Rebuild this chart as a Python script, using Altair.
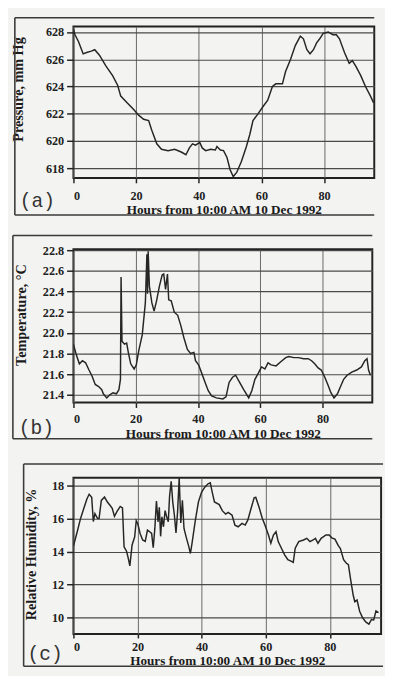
import altair as alt
import pandas as pd

# ---------------- data ----------------
hours_a = [0, 0.5, 1.6, 3.1, 4.2, 5.7, 6.8, 8.3, 10.4, 12.5, 14.1, 15.1, 17.2, 19.3, 20.8,
           22.4, 24.0, 25.0, 26.6, 28.1, 30.2, 32.3, 34.4, 35.9, 37.0, 38.0, 39.0, 40.3,
           41.1, 42.2, 43.8, 45.3, 45.8, 46.9, 47.9, 49.0, 50.0, 51.0, 52.1, 53.6, 55.2,
           56.3, 57.3, 58.9, 60.4, 62.0, 63.5, 64.6, 66.7, 67.7, 69.3, 70.8, 72.4, 73.4,
           74.5, 75.5, 76.6, 77.6, 78.6, 79.7, 81.3, 82.8, 83.9, 84.9, 86.5, 88.0, 89.0,
           90.1, 91.7, 93.2, 94.8, 95.8]
pressure = [628.2, 627.8, 627.3, 626.4, 626.5, 626.6, 626.7, 626.3, 625.5, 624.8, 624.1,
            623.3, 622.8, 622.3, 621.9, 621.6, 621.5, 620.8, 619.8, 619.4, 619.3, 619.4,
            619.2, 619.0, 619.5, 619.8, 619.7, 619.9, 619.5, 619.3, 619.4, 619.35, 619.6,
            619.35, 619.3, 618.8, 617.9, 617.4, 617.7, 618.5, 619.6, 620.5, 621.5, 622.0,
            622.5, 623.0, 624.0, 624.2, 624.2, 625.1, 626.0, 627.0, 627.7, 627.5, 626.7,
            626.4, 626.7, 627.2, 627.5, 627.9, 628.0, 627.8, 627.8, 627.5, 626.5, 625.7,
            625.9, 625.5, 624.8, 624.0, 623.3, 622.8]

hours_b = [0.0, 0.8, 1.9, 2.9, 3.9, 5.0, 6.0, 7.0, 8.1, 9.1, 9.6, 10.7, 11.7, 12.7, 13.8,
           14.6, 15.1, 15.3, 15.6, 16.4, 17.1, 17.7, 18.4, 19.5, 20.2, 21.0, 22.1, 23.1,
           23.6, 23.8, 24.0, 24.4, 25.2, 25.9, 26.7, 27.6, 28.5, 29.0, 29.6, 30.2, 30.6,
           31.4, 32.4, 33.5, 34.5, 35.5, 36.6, 37.6, 38.7, 39.2, 40.2, 41.2, 42.3, 43.3,
           44.4, 45.9, 48.0, 49.0, 50.0, 51.1, 52.1, 53.2, 54.7, 56.3, 57.3, 58.3, 59.4,
           60.4, 61.5, 62.5, 63.5, 65.1, 66.6, 68.2, 69.2, 70.8, 72.3, 73.9, 75.4, 76.5,
           77.5, 78.6, 79.6, 80.6, 81.7, 82.7, 83.7, 84.8, 85.8, 86.8, 87.9, 89.4, 91.0,
           92.5, 93.6, 94.3, 94.8, 95.4]
temperature = [21.89, 21.80, 21.70, 21.73, 21.71, 21.64, 21.58, 21.50, 21.48, 21.45, 21.41,
               21.37, 21.40, 21.42, 21.41, 21.45, 21.55, 22.54, 21.92, 21.89, 21.90, 21.80,
               21.70, 21.65, 21.69, 21.83, 21.98, 22.29, 22.76, 22.38, 22.79, 22.45, 22.29,
               22.21, 22.31, 22.45, 22.56, 22.57, 22.42, 22.57, 22.32, 22.31, 22.20, 22.17,
               22.07, 21.95, 21.84, 21.80, 21.81, 21.73, 21.69, 21.61, 21.52, 21.44, 21.39,
               21.37, 21.36, 21.38, 21.52, 21.57, 21.59, 21.53, 21.45, 21.37, 21.44, 21.55,
               21.61, 21.67, 21.65, 21.71, 21.69, 21.68, 21.72, 21.76, 21.77, 21.76, 21.76,
               21.75, 21.75, 21.73, 21.70, 21.66, 21.64, 21.58, 21.50, 21.42, 21.37, 21.41,
               21.48, 21.55, 21.59, 21.62, 21.64, 21.67, 21.73, 21.75, 21.64, 21.59]

hours_c = [0.0, 1.2, 2.2, 3.2, 4.2, 4.9, 5.7, 6.2, 6.7, 7.5, 8.0, 8.7, 9.7, 10.6, 11.4,
           12.1, 12.8, 13.6, 14.6, 15.3, 15.8, 16.6, 17.1, 17.6, 18.3, 19.1, 19.6, 20.1,
           20.8, 21.6, 22.4, 23.1, 23.8, 24.4, 24.9, 25.4, 25.9, 26.4, 26.8, 27.2, 27.6,
           28.1, 28.6, 29.1, 29.6, 30.0, 30.5, 31.0, 31.5, 32.0, 32.5, 33.0, 33.5, 34.0,
           34.5, 35.2, 36.0, 36.5, 37.0, 38.0, 39.0, 40.0, 41.0, 42.0, 42.7, 43.3, 44.0,
           45.5, 46.5, 47.5, 48.3, 49.5, 50.4, 51.4, 52.6, 53.6, 54.4, 55.4, 56.4, 56.9,
           57.9, 58.9, 59.9, 60.9, 61.6, 62.4, 63.2, 63.9, 64.9, 65.9, 66.9, 67.9, 68.6,
           69.2, 70.3, 71.8, 72.8, 73.8, 74.8, 75.5, 76.3, 77.3, 78.8, 79.8, 80.6, 81.6,
           82.6, 83.3, 84.3, 85.1, 85.8, 86.5, 87.3, 87.8, 88.5, 89.3, 90.2, 91.2, 92.2,
           93.0, 93.7, 94.4, 95.2]
humidity = [14.33, 15.21, 15.99, 16.59, 17.18, 17.47, 17.28, 15.82, 16.30, 16.01, 16.0,
            17.1, 17.3, 17.0, 16.8, 16.62, 16.13, 16.43, 16.73, 16.64, 14.29, 14.0, 13.6,
            13.13, 14.4, 14.88, 15.87, 15.67, 15.09, 14.7, 14.61, 15.3, 15.2, 15.1, 14.23,
            15.4, 17.06, 15.8, 16.68, 14.92, 16.1, 15.5, 16.48, 16.1, 15.8, 17.36, 18.25,
            16.98, 16.2, 15.13, 16.4, 18.45, 15.73, 17.1, 15.4, 14.86, 14.3, 13.88, 14.5,
            15.84, 17.0, 17.6, 17.9, 18.1, 18.16, 17.6, 17.0, 16.84, 16.46, 16.27, 16.37,
            16.2, 15.6, 15.5, 15.7, 15.6, 15.9, 16.59, 17.27, 17.28, 16.7, 16.03, 15.53,
            14.97, 14.5, 15.0, 15.2, 14.6, 14.2, 13.8, 13.5, 13.42, 13.34, 14.2, 14.6,
            14.7, 14.8, 14.6, 14.7, 14.8, 14.5, 14.8, 15.0, 15.0, 14.83, 14.75, 14.37,
            14.18, 13.5, 13.3, 13.2, 12.3, 11.35, 10.96, 11.06, 10.38, 10.0, 9.73, 9.6,
            9.88, 9.85, 10.4, 10.3]

x_ticks = [0, 20, 40, 60, 80]
x_title = "Hours from 10:00 AM  10 Dec 1992"
pressure_ticks = [618, 620, 622, 624, 626, 628]
temp_ticks = [21.4, 21.6, 21.8, 22.0, 22.2, 22.4, 22.6, 22.8]
hum_ticks = [10, 12, 14, 16, 18]

SERIF = "Liberation Serif"
INK = "#262626"
BG = "#f3f3f1"


def panel(hours, values, ytitle, ydomain, yticks, yfmt, tag, w, h, frame, ytitle_xy, xpad):
    fl, ft, fb, fr, tx, ty = frame
    df = pd.DataFrame({"h": hours, "v": values})
    line = alt.Chart(df).mark_line(color=INK, strokeWidth=1.5, clip=True).encode(
        x=alt.X("h:Q", scale=alt.Scale(domain=[0, 96], nice=False, zero=False),
                axis=alt.Axis(values=x_ticks, title=x_title, format="d",
                              tickSize=xpad[0], labelPadding=xpad[1], titlePadding=xpad[2])),
        y=alt.Y("v:Q", scale=alt.Scale(domain=ydomain, nice=False, zero=False),
                axis=alt.Axis(values=yticks, format=yfmt, title=ytitle,
                              titleX=ytitle_xy[0], titleY=ytitle_xy[1])),
    )
    deco = alt.Chart(pd.DataFrame({"k": [0]}))
    top = deco.mark_rule(color="#3a3a3a", strokeWidth=1.6).encode(
        x=alt.value(fl), x2=alt.value(fr), y=alt.value(ft))
    bottom = deco.mark_rule(color="#3a3a3a", strokeWidth=1.6).encode(
        x=alt.value(fl), x2=alt.value(fr), y=alt.value(fb))
    left = deco.mark_rule(color="#3a3a3a", strokeWidth=1.6).encode(
        x=alt.value(fl), y=alt.value(ft), y2=alt.value(fb))
    label = deco.mark_text(font="Liberation Mono", fontSize=20, color="#333",
                           align="center", baseline="middle").encode(
        x=alt.value(tx), y=alt.value(ty), text=alt.value(tag))
    return alt.layer(line, top, bottom, left, label).properties(width=w, height=h)


pa = panel(hours_a, pressure, "Pressure, mm Hg", [617.3, 628.4], pressure_ticks, "d",
           "(a)", 308, 155, (-60, -9, 193, 308, -37, 179), (-49, 64), (5, 7, 1))
pb = panel(hours_b, temperature, "Temperature, °C", [21.325, 22.81], temp_ticks, ".1f",
           "(b)", 306, 157, (-62, -14, 194, 306, -38, 183), (-46, 67), (5, 5, 2))
pc = panel(hours_c, humidity, "Relative Humidity, %", [9.0, 18.47], hum_ticks, "d",
           "(c)", 315, 160, (-51, -14, 193, 317, -29, 181), (-36, 78), (4, 3, 1))

chart = alt.concat(
    pa,
    alt.concat(pb, pc, columns=1, spacing=22, align="none"),
    columns=1, spacing=17, align="none",
).properties(
    background=BG,
    padding={"left": 2, "top": 0, "right": 0, "bottom": 0},
).configure_view(
    stroke="#222", strokeWidth=2
).configure_axis(
    labelFont=SERIF, labelFontWeight="bold", labelFontSize=12.5, labelColor="#222",
    titleFont=SERIF, titleFontWeight="bold", titleColor="#1a1a1a",
    grid=True, gridColor="#4a4a4a", gridWidth=1.2, gridOpacity=1,
    tickColor="#222", tickWidth=1.5, domain=False,
).configure_axisX(
    titleFontSize=13.5, gridColor="#666", gridWidth=1,
).configure_axisY(
    titleFontSize=14.5, tickSize=7, labelPadding=3,
)

chart.save("out.html", embed_options={"renderer": "svg", "actions": False})
